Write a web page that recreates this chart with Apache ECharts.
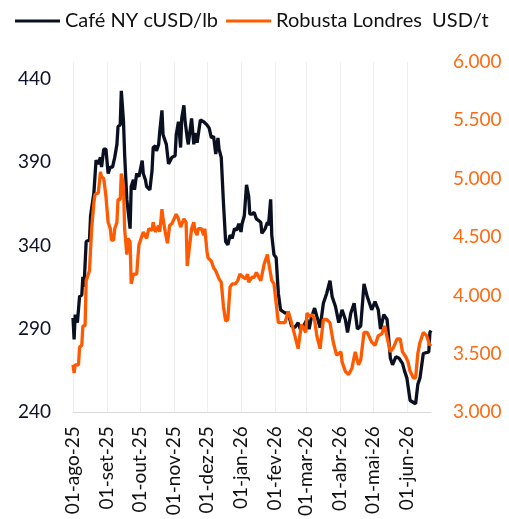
<!DOCTYPE html>
<html>
<head>
<meta charset="utf-8">
<script src="https://cdn.jsdelivr.net/npm/echarts@6/dist/echarts.min.js"></script>
<style>
  html, body { margin: 0; padding: 0; background: #fff; }
  #chart { width: 509px; height: 519px; }
</style>
</head>
<body>
<div id="chart"></div>
<script>
var firstDay = '2025-08-01';
var lastDay = '2026-06-23';
var monthNames = ['jan', 'fev', 'mar', 'abr', 'mai', 'jun', 'jul', 'ago', 'set', 'out', 'nov', 'dez'];
var seriesNames = ['Café NY cUSD/lb', 'Robusta Londres  USD/t'];

// Café NY, cUSD/lb (eixo esquerdo)
var cafeNY = [
    ['2025-08-01', 296.6], ['2025-08-02', 283.7], ['2025-08-03', 298.5], ['2025-08-05', 293.7],
    ['2025-08-07', 309.4], ['2025-08-09', 310.2], ['2025-08-10', 321.1], ['2025-08-11', 315.1],
    ['2025-08-13', 342.3], ['2025-08-16', 343.2], ['2025-08-17', 357.8], ['2025-08-20', 371.4],
    ['2025-08-22', 391.1], ['2025-08-24', 388.9], ['2025-08-26', 392.8], ['2025-08-27', 387.0],
    ['2025-08-29', 397.7], ['2025-08-31', 397.7], ['2025-09-02', 383.1], ['2025-09-04', 387.0],
    ['2025-09-06', 387.0], ['2025-09-08', 392.8], ['2025-09-10', 400.6], ['2025-09-11', 411.3],
    ['2025-09-13', 412.3], ['2025-09-14', 432.7], ['2025-09-16', 414.2], ['2025-09-17', 394.8],
    ['2025-09-19', 367.6], ['2025-09-20', 367.8], ['2025-09-22', 350.1], ['2025-09-23', 375.3],
    ['2025-09-25', 379.4], ['2025-09-26', 373.4], ['2025-09-28', 383.1], ['2025-09-30', 381.2],
    ['2025-10-03', 390.9], ['2025-10-04', 383.1], ['2025-10-06', 379.2], ['2025-10-07', 375.3],
    ['2025-10-10', 373.4], ['2025-10-12', 385.1], ['2025-10-13', 398.7], ['2025-10-15', 399.7],
    ['2025-10-16', 396.7], ['2025-10-18', 400.6], ['2025-10-19', 408.4], ['2025-10-21', 421.0],
    ['2025-10-22', 406.4], ['2025-10-25', 400.6], ['2025-10-27', 388.9], ['2025-10-30', 392.8],
    ['2025-11-02', 393.8], ['2025-11-03', 406.4], ['2025-11-05', 414.2], ['2025-11-07', 398.7],
    ['2025-11-08', 416.2], ['2025-11-10', 424.0], ['2025-11-11', 415.0], ['2025-11-13', 404.5],
    ['2025-11-14', 400.6], ['2025-11-17', 416.2], ['2025-11-19', 400.6], ['2025-11-20', 407.4],
    ['2025-11-22', 401.6], ['2025-11-25', 415.2], ['2025-11-28', 414.2], ['2025-12-01', 412.3],
    ['2025-12-03', 410.3], ['2025-12-05', 404.5], ['2025-12-07', 405.5], ['2025-12-09', 394.8],
    ['2025-12-11', 404.5], ['2025-12-12', 397.7], ['2025-12-14', 392.8], ['2025-12-16', 365.6],
    ['2025-12-18', 342.3], ['2025-12-20', 340.3], ['2025-12-22', 346.2], ['2025-12-24', 344.2],
    ['2025-12-26', 350.1], ['2025-12-28', 349.1], ['2025-12-30', 353.0], ['2026-01-01', 348.1],
    ['2026-01-02', 353.0], ['2026-01-04', 357.8], ['2026-01-06', 376.3], ['2026-01-08', 369.5],
    ['2026-01-09', 358.8], ['2026-01-11', 358.8], ['2026-01-13', 359.8], ['2026-01-15', 355.9],
    ['2026-01-19', 353.9], ['2026-01-20', 347.2], ['2026-01-23', 350.1], ['2026-01-25', 353.9],
    ['2026-01-26', 352.0], ['2026-01-28', 367.6], ['2026-01-29', 346.2], ['2026-01-31', 334.5],
    ['2026-02-02', 332.6], ['2026-02-04', 311.2], ['2026-02-06', 301.4], ['2026-02-10', 299.5],
    ['2026-02-13', 299.5], ['2026-02-16', 291.7], ['2026-02-19', 290.7], ['2026-02-22', 293.7],
    ['2026-02-24', 289.8], ['2026-02-27', 291.7], ['2026-03-02', 295.6], ['2026-03-04', 289.8],
    ['2026-03-06', 296.6], ['2026-03-09', 302.4], ['2026-03-11', 297.6], ['2026-03-14', 290.7],
    ['2026-03-17', 305.3], ['2026-03-20', 311.2], ['2026-03-23', 318.9], ['2026-03-25', 309.2],
    ['2026-03-28', 303.4], ['2026-03-31', 293.7], ['2026-04-03', 301.4], ['2026-04-06', 295.6],
    ['2026-04-08', 287.8], ['2026-04-11', 299.5], ['2026-04-14', 305.3], ['2026-04-17', 289.8],
    ['2026-04-20', 291.7], ['2026-04-23', 317.0], ['2026-04-26', 309.2], ['2026-04-27', 308.3],
    ['2026-04-30', 301.4], ['2026-05-03', 306.3], ['2026-05-06', 301.4], ['2026-05-08', 289.8],
    ['2026-05-11', 298.5], ['2026-05-14', 295.6], ['2026-05-17', 272.3], ['2026-05-19', 268.4],
    ['2026-05-22', 273.2], ['2026-05-25', 272.3], ['2026-05-28', 269.3], ['2026-05-30', 264.5],
    ['2026-06-01', 260.6], ['2026-06-04', 247.0], ['2026-06-09', 245.1], ['2026-06-11', 256.7],
    ['2026-06-13', 260.6], ['2026-06-16', 275.2], ['2026-06-21', 276.2], ['2026-06-22', 287.8],
    ['2026-06-23', 289.0]
];

// Robusta Londres, USD/t (eixo direito)
var robusta = [
    ['2025-08-01', 3406], ['2025-08-02', 3336], ['2025-08-03', 3406], ['2025-08-06', 3406],
    ['2025-08-07', 3558], ['2025-08-09', 3572], ['2025-08-10', 3739], ['2025-08-12', 3739],
    ['2025-08-13', 4127], ['2025-08-16', 4211], ['2025-08-18', 4572], ['2025-08-20', 4794],
    ['2025-08-21', 4864], ['2025-08-24', 4877], ['2025-08-26', 5058], ['2025-08-27', 5017],
    ['2025-08-29', 5002], ['2025-08-31', 4850], ['2025-09-02', 4627], ['2025-09-04', 4572],
    ['2025-09-05', 4475], ['2025-09-07', 4475], ['2025-09-08', 4572], ['2025-09-10', 4627],
    ['2025-09-11', 4822], ['2025-09-13', 4822], ['2025-09-14', 5044], ['2025-09-16', 4933],
    ['2025-09-17', 4572], ['2025-09-19', 4350], ['2025-09-20', 4489], ['2025-09-22', 4461],
    ['2025-09-23', 4100], ['2025-09-25', 4183], ['2025-09-28', 4183], ['2025-09-30', 4433],
    ['2025-10-01', 4461], ['2025-10-04', 4544], ['2025-10-07', 4489], ['2025-10-09', 4572],
    ['2025-10-12', 4558], ['2025-10-13', 4627], ['2025-10-15', 4544], ['2025-10-18', 4600],
    ['2025-10-19', 4544], ['2025-10-21', 4739], ['2025-10-22', 4656], ['2025-10-24', 4544],
    ['2025-10-26', 4447], ['2025-10-28', 4600], ['2025-10-30', 4614], ['2025-10-31', 4627],
    ['2025-11-03', 4697], ['2025-11-05', 4656], ['2025-11-07', 4586], ['2025-11-10', 4656],
    ['2025-11-12', 4627], ['2025-11-13', 4252], ['2025-11-14', 4266], ['2025-11-17', 4572],
    ['2025-11-19', 4627], ['2025-11-20', 4558], ['2025-11-22', 4517], ['2025-11-23', 4572],
    ['2025-11-26', 4572], ['2025-11-28', 4517], ['2025-11-29', 4572], ['2025-12-01', 4377],
    ['2025-12-02', 4322], ['2025-12-05', 4294], ['2025-12-07', 4239], ['2025-12-09', 4211],
    ['2025-12-12', 4142], ['2025-12-14', 4114], ['2025-12-16', 3906], ['2025-12-18', 3781],
    ['2025-12-20', 3794], ['2025-12-22', 4072], ['2025-12-24', 4100], ['2025-12-27', 4100],
    ['2025-12-29', 4127], ['2025-12-31', 4183], ['2026-01-03', 4156], ['2026-01-05', 4142],
    ['2026-01-07', 4183], ['2026-01-08', 4114], ['2026-01-11', 4156], ['2026-01-13', 4156],
    ['2026-01-15', 4197], ['2026-01-19', 4127], ['2026-01-22', 4267], ['2026-01-25', 4350],
    ['2026-01-26', 4294], ['2026-01-29', 4127], ['2026-01-31', 4100], ['2026-02-03', 3850],
    ['2026-02-04', 3767], ['2026-02-06', 3767], ['2026-02-10', 3767], ['2026-02-13', 3864],
    ['2026-02-16', 3767], ['2026-02-19', 3656], ['2026-02-22', 3544], ['2026-02-25', 3752],
    ['2026-03-01', 3683], ['2026-03-02', 3850], ['2026-03-04', 3822], ['2026-03-07', 3836],
    ['2026-03-09', 3794], ['2026-03-11', 3656], ['2026-03-14', 3544], ['2026-03-17', 3794],
    ['2026-03-20', 3794], ['2026-03-23', 3767], ['2026-03-26', 3600], ['2026-03-29', 3489],
    ['2026-04-02', 3517], ['2026-04-03', 3433], ['2026-04-06', 3350], ['2026-04-09', 3322],
    ['2026-04-12', 3377], ['2026-04-15', 3517], ['2026-04-18', 3406], ['2026-04-20', 3447],
    ['2026-04-23', 3683], ['2026-04-26', 3683], ['2026-04-30', 3600], ['2026-05-03', 3572],
    ['2026-05-06', 3656], ['2026-05-09', 3669], ['2026-05-12', 3739], ['2026-05-13', 3683],
    ['2026-05-15', 3600], ['2026-05-17', 3517], ['2026-05-20', 3558], ['2026-05-23', 3627],
    ['2026-05-26', 3627], ['2026-05-28', 3517], ['2026-05-31', 3475], ['2026-06-02', 3433],
    ['2026-06-04', 3350], ['2026-06-07', 3294], ['2026-06-09', 3294], ['2026-06-11', 3502],
    ['2026-06-13', 3600], ['2026-06-16', 3683], ['2026-06-19', 3656], ['2026-06-22', 3572],
    ['2026-06-23', 3586]
];

// todos os dias do período (eixo de categorias)
function dayList(a, b) {
    var out = [];
    var d = new Date(a + 'T00:00:00Z');
    var end = new Date(b + 'T00:00:00Z');
    while (d <= end) {
        out.push(d.toISOString().slice(0, 10));
        d.setUTCDate(d.getUTCDate() + 1);
    }
    return out;
}
var days = dayList(firstDay, lastDay);

function isMonthStart(index, value) {
    return value.slice(8, 10) === '01';
}

var fontFamily = 'Lato';
var myChart = echarts.init(document.getElementById('chart'));

var option = {
    animation: false,
    color: ['#0b1020', '#ff5a00'],
    textStyle: { fontFamily: fontFamily },
    legend: {
        left: 10,
        top: 6,
        icon: 'rect',
        itemWidth: 45,
        itemHeight: 3,
        itemGap: 8,
        textStyle: { fontSize: 20, color: '#111', fontFamily: fontFamily },
        data: seriesNames
    },
    grid: { left: 73, right: 78, top: 62, bottom: 97 },
    xAxis: {
        type: 'category',
        data: days,
        boundaryGap: false,
        axisLine: { lineStyle: { color: '#d9d9d9', width: 1 } },
        axisTick: { show: false },
        axisLabel: {
            interval: isMonthStart,
            rotate: 90,
            margin: 14,
            fontSize: 19,
            color: '#111',
            formatter: function (v) {
                return '01-' + monthNames[+v.slice(5, 7) - 1] + '-' + v.slice(2, 4);
            }
        },
        splitLine: { show: true, interval: isMonthStart, lineStyle: { color: '#efefef', width: 1 } }
    },
    yAxis: [
        {
            type: 'value',
            min: 240,
            max: 450,
            interval: 50,
            axisLine: { show: false },
            axisTick: { show: false },
            splitLine: { show: false },
            axisLabel: { showMaxLabel: false, fontSize: 19, color: '#0d1226', margin: 22 }
        },
        {
            type: 'value',
            min: 3000,
            max: 6000,
            interval: 500,
            axisLine: { show: false },
            axisTick: { show: false },
            splitLine: { show: false },
            axisLabel: {
                fontSize: 19,
                color: '#ff6a13',
                margin: 22,
                formatter: function (v) {
                    return String(v).replace(/\B(?=(\d{3})+(?!\d))/g, '.');
                }
            }
        }
    ],
    series: [
        {
            name: seriesNames[0],
            type: 'line',
            yAxisIndex: 0,
            showSymbol: false,
            lineStyle: { width: 3.3, color: '#0b1020' },
            data: cafeNY
        },
        {
            name: seriesNames[1],
            type: 'line',
            yAxisIndex: 1,
            showSymbol: false,
            lineStyle: { width: 3.3, color: '#ff5a00' },
            data: robusta
        }
    ]
};

myChart.setOption(option);
</script>
</body>
</html>
